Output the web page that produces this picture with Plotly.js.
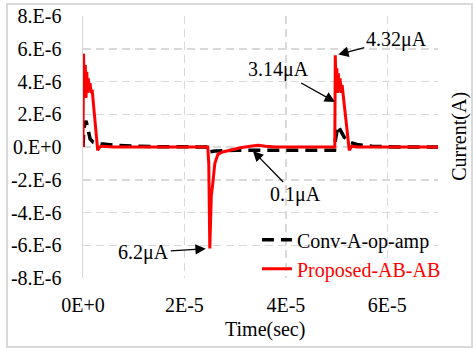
<!DOCTYPE html>
<html>
<head>
<meta charset="utf-8">
<script src="https://cdn.plot.ly/plotly-3.0.1.min.js"></script>
<style>
  html, body { margin: 0; padding: 0; background: #fff; }
  #wrap { position: relative; width: 473px; height: 348px; }
  #chart { width: 473px; height: 348px; }
  #frame { position: absolute; left: 6px; top: 3px; width: 463px; height: 341px;
           border: 2px solid #d9d9d9; pointer-events: none; }
  #chart text { font-family: 'Liberation Serif', serif !important; }
</style>
</head>
<body>
<div id="wrap">
  <div id="chart"></div>
  <div id="frame"></div>
</div>
<script>
// Conventional op-amp output current (time in s, current in A)
const convTime = [0, 0.2e-6, 0.6e-6, 1.0e-6, 1.4e-6, 2.0e-6, 3.5e-6, 6e-6, 10e-6, 15e-6, 24.7e-6,
  24.9e-6, 26e-6, 30e-6, 40e-6, 49.6e-6, 49.8e-6, 50.3e-6, 50.8e-6, 51.5e-6, 52.5e-6, 54e-6, 57e-6, 62e-6, 70e-6];
const convCurrent = [0, 1.2e-6, 1.6e-6, 0.9e-6, 0.5e-6, 0.3e-6, 0.2e-6, 0.12e-6, 0.05e-6, 0.02e-6, 0,
  -0.3e-6, -0.25e-6, -0.2e-6, -0.2e-6, -0.2e-6, 0.5e-6, 1.3e-6, 1.0e-6, 0.6e-6, 0.3e-6, 0.15e-6, 0.05e-6, 0, 0];

// Proposed AB-AB output current
const propTime = [0, 0.1e-6, 0.3e-6, 0.45e-6, 0.6e-6, 0.75e-6, 0.9e-6, 1.05e-6, 1.2e-6, 1.4e-6, 1.6e-6, 1.8e-6,
  2.9e-6, 3.3e-6, 3.8e-6, 6e-6, 24.6e-6, 24.8e-6, 25.0e-6, 25.1e-6, 25.3e-6, 25.6e-6, 26.0e-6, 26.6e-6,
  27.5e-6, 29e-6, 31e-6, 33e-6, 34.5e-6, 36e-6, 38e-6, 49.65e-6, 49.75e-6, 49.9e-6, 50.05e-6, 50.2e-6,
  50.35e-6, 50.5e-6, 50.7e-6, 50.9e-6, 51.1e-6, 51.3e-6, 52.5e-6, 53.0e-6, 54e-6, 70e-6];
const propCurrent = [0, 5.7e-6, 3.2e-6, 5.0e-6, 3.0e-6, 4.6e-6, 3.3e-6, 4.2e-6, 3.4e-6, 3.9e-6, 3.3e-6, 3.5e-6,
  -0.2e-6, 0, 0.05e-6, 0, 0, -1.0e-6, -6.2e-6, -4.2e-6, -3.0e-6, -2.2e-6, -1.0e-6, -0.45e-6,
  -0.3e-6, -0.2e-6, -0.05e-6, 0.05e-6, 0.1e-6, 0.05e-6, 0, 0, 5.6e-6, 3.5e-6, 4.8e-6, 3.3e-6,
  4.5e-6, 3.4e-6, 4.2e-6, 3.3e-6, 3.8e-6, 3.2e-6, -0.2e-6, 0.05e-6, 0, 0];

const seriesNames = ['Conv-A-op-amp', 'Proposed-AB-AB'];

const yTickVals = [8e-6, 6e-6, 4e-6, 2e-6, 0, -2e-6, -4e-6, -6e-6, -8e-6];
const yTickText = ['8.E-6', '6.E-6', '4.E-6', '2.E-6', '0.E+0', '-2.E-6', '-4.E-6', '-6.E-6', '-8.E-6'];
const xTickVals = [0, 2e-5, 4e-5, 6e-5];
const xTickText = ['0E+0', '2E-5', '4E-5', '6E-5'];

const FONT = 'Liberation Serif';

const traces = [
  {
    x: convTime, y: convCurrent, type: 'scatter', mode: 'lines',
    name: seriesNames[0],
    line: { color: '#000000', width: 3.5, dash: '12px,7px' }
  },
  {
    x: propTime, y: propCurrent, type: 'scatter', mode: 'lines',
    name: '<span style="color:#ff0000">' + seriesNames[1] + '</span>',
    line: { color: '#ff0000', width: 3 }
  }
];

// point of deepest undershoot on the proposed trace
let minIdx = 0;
propCurrent.forEach((v, i) => { if (v < propCurrent[minIdx]) minIdx = i; });
// second positive peak (after the 45 us mark)
let peakIdx = propTime.findIndex(t => t > 45e-6);
for (let i = peakIdx; i < propCurrent.length; i++) if (propCurrent[i] > propCurrent[peakIdx]) peakIdx = i;

const arrowBase = { showarrow: true, arrowhead: 2, arrowsize: 1.6, arrowwidth: 1.3, arrowcolor: '#000',
  font: { family: FONT, size: 20, color: '#000' } };

const layout = {
  width: 473, height: 348,
  margin: { l: 83, r: 35, t: 16, b: 70 },
  paper_bgcolor: '#fff', plot_bgcolor: '#fff',
  font: { family: FONT, size: 20, color: '#000' },
  showlegend: true,
  legend: {
    x: 0.49, xanchor: 'left', y: 0.22, yanchor: 'top',
    bgcolor: 'rgba(255,255,255,0)', font: { family: FONT, size: 20, color: '#000' },
    tracegroupgap: 0, itemwidth: 30
  },
  xaxis: {
    range: [0, 7e-5], tickvals: xTickVals, ticktext: xTickText,
    showgrid: true, gridcolor: '#d9d9d9', gridwidth: 1.5, griddash: '8px,5px',
    zeroline: false, showline: false,
    ticks: 'outside', ticklen: 9, tickcolor: 'rgba(0,0,0,0)',
    tickfont: { family: FONT, size: 20, color: '#000' }
  },
  yaxis: {
    range: [-8e-6, 8e-6], tickvals: yTickVals, ticktext: yTickText,
    showgrid: true, gridcolor: '#d9d9d9', gridwidth: 1.5, griddash: '8px,5px',
    zeroline: false, showline: true, linecolor: '#d9d9d9', linewidth: 1.5,
    ticks: 'outside', ticklen: 16, tickcolor: 'rgba(0,0,0,0)',
    tickfont: { family: FONT, size: 20, color: '#000' }
  },
  annotations: [
    Object.assign({}, arrowBase, { text: '6.2μA', x: propTime[minIdx], y: propCurrent[minIdx],
      ax: -66, ay: 4, standoff: 4 }),
    Object.assign({}, arrowBase, { text: '0.1μA', x: 33.5e-6, y: -0.24e-6, ax: 43, ay: 44 }),
    Object.assign({}, arrowBase, { text: '4.32μA', x: propTime[peakIdx], y: propCurrent[peakIdx],
      ax: 61, ay: -16, standoff: 3 }),
    Object.assign({}, arrowBase, { text: '3.14μA', x: 49.7e-6, y: 2.75e-6, ax: -57, ay: -32 }),
    { text: 'Time(sec)', xref: 'paper', yref: 'paper', x: 0.513, y: -0.195,
      xanchor: 'center', yanchor: 'middle', showarrow: false,
      font: { family: FONT, size: 20, color: '#000' } },
    { text: 'Current(A)', xref: 'paper', yref: 'paper', x: 1.06, y: 0.54, textangle: -90,
      xanchor: 'center', yanchor: 'middle', showarrow: false,
      font: { family: FONT, size: 20, color: '#000' } }
  ]
};

Plotly.newPlot('chart', traces, layout, { displayModeBar: false, staticPlot: true });
</script>
</body>
</html>
